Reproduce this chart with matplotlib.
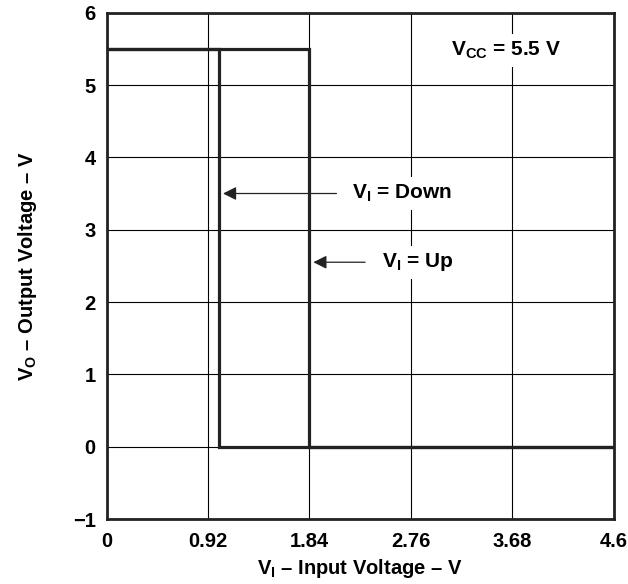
import numpy as np
from matplotlib import pyplot as plt

plt.rcParams['font.family'] = ['Liberation Sans', 'DejaVu Sans']
plt.rcParams['font.weight'] = 'bold'
plt.rcParams['axes.labelweight'] = 'bold'
plt.rcParams['mathtext.fontset'] = 'custom'
plt.rcParams['mathtext.rm'] = 'Liberation Sans:bold'
plt.rcParams['mathtext.it'] = 'Liberation Sans:bold'
plt.rcParams['mathtext.bf'] = 'Liberation Sans:bold'

# transfer curves, input sweeping up and down
vi_up = [0, 1.84, 1.84, 4.6]
vo_up = [5.5, 5.5, 0, 0]
vi_down = [0, 1.02, 1.02, 4.6]
vo_down = [5.5, 5.5, 0, 0]

xticks = [0, 0.92, 1.84, 2.76, 3.68, 4.6]
xticklabels = ['0', '0.92', '1.84', '2.76', '3.68', '4.6']
yticks = [-1, 0, 1, 2, 3, 4, 5, 6]
yticklabels = ['\u22121', '0', '1', '2', '3', '4', '5', '6']

def main():
	fig = plt.figure(figsize=(6.28, 5.84), dpi=100)
	ax = fig.add_axes([0.170, 0.1113, 0.807, 0.867])
	ax.plot(vi_up, vo_up, color='#222222', lw=2.3, solid_joinstyle='miter', zorder=3)
	ax.plot(vi_down, vo_down, color='#222222', lw=2.3, solid_joinstyle='miter', zorder=3)
	ax.set_xlim(0, 4.6)
	ax.set_ylim(-1, 6)
	ax.set_xticks(xticks)
	ax.set_xticklabels(xticklabels)
	ax.set_yticks(yticks)
	ax.set_yticklabels(yticklabels)
	ax.tick_params(length=0, labelsize=14.5, pad=9)
	ax.tick_params(axis='y', pad=8)
	ax.grid(True, color='black', lw=0.8)
	for s in ax.spines.values():
		s.set_linewidth(2.0)
		s.set_color('#222222')
	ax.set_xlabel(r'V$_{\mathrm{I}}$ – Input Voltage – V', fontsize=14.5, labelpad=5)
	ax.set_ylabel(r'V$_{\mathrm{O}}$ – Output Voltage – V', fontsize=14.5, labelpad=24)

	# annotations
	ax.annotate('', xy=(1.03, 3.5), xytext=(2.11, 3.5),
		arrowprops=dict(arrowstyle='-|>', color='#222222', lw=0.9, mutation_scale=20), zorder=4)
	ax.annotate('', xy=(1.85, 2.55), xytext=(2.37, 2.55),
		arrowprops=dict(arrowstyle='-|>', color='#222222', lw=0.9, mutation_scale=20), zorder=4)
	box = dict(facecolor='white', edgecolor='none', pad=4)
	ax.text(2.23, 3.5, r'V$_{\mathrm{I}}$ = Down', fontsize=15, va='center', ha='left', bbox=box, zorder=4)
	ax.text(2.50, 2.55, r'V$_{\mathrm{I}}$ = Up', fontsize=15, va='center', ha='left', bbox=box, zorder=4)
	ax.text(3.62, 5.48, r'V$_{\mathrm{CC}}$ = 5.5 V', fontsize=15, va='center', ha='center', bbox=box, zorder=4)
	fig.savefig('out.png', dpi=100)

if __name__ == "__main__":
	main()
